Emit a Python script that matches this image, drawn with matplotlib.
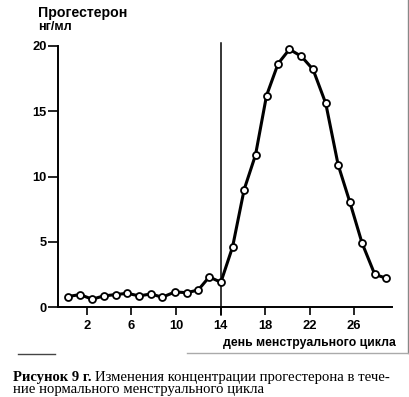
import matplotlib
matplotlib.use("Agg")
import matplotlib.pyplot as plt
from matplotlib.lines import Line2D

# положение точек по дням цикла (как нарисовано) и концентрация, нг/мл
days = [0.27, 1.37, 2.47, 3.52, 4.57, 5.62, 6.69, 7.74, 8.76, 9.90,
        10.97, 11.99, 12.98, 14.03, 15.08, 16.12, 17.14, 18.13, 19.17,
        20.19, 21.27, 22.31, 23.45, 24.56, 25.61, 26.71, 27.85, 28.90]
progesterone = [0.8, 0.95, 0.6, 0.85, 0.95, 1.05, 0.85, 1.0, 0.75, 1.15,
                1.1, 1.3, 2.3, 1.9, 4.6, 9.0, 11.65, 16.2, 18.65, 19.75,
                19.2, 18.2, 15.6, 10.9, 8.05, 4.9, 2.5, 2.2]

x_ticks = [2, 6, 10, 14, 18, 22, 26]
y_ticks = [0, 5, 10, 15, 20]
ovulation_day = 14

W, H = 410, 397
SANS = "Liberation Sans"
SERIF = "Liberation Serif"


def fx(px):
    return px / W


def fy(py):
    return 1 - py / H


fig = plt.figure(figsize=(W / 100, H / 100), dpi=100)
ax = fig.add_axes([fx(58), fy(307), (392 - 58) / W, (307 - 46) / H])

ax.plot(days, progesterone, color="black", lw=2.2, marker="o", ms=5,
        mfc="white", mec="black", mew=1.3, clip_on=False, zorder=3)
# вертикальная линия - середина цикла
ax.plot([ovulation_day, ovulation_day], [-0.6, 20.25], color="black",
        lw=1.1, clip_on=False, zorder=2)

ax.set_xlim(-0.6, 29.4)
ax.set_ylim(0, 20)
ax.set_xticks(x_ticks)
ax.set_yticks(y_ticks)
for s in ["top", "right"]:
    ax.spines[s].set_visible(False)
for s in ["left", "bottom"]:
    ax.spines[s].set_linewidth(1.4)
ax.tick_params(axis="x", direction="out", length=6, width=1.2, pad=3.5)
ax.tick_params(axis="y", direction="out", length=7, width=1.2, pad=1)
for lab in ax.get_xticklabels() + ax.get_yticklabels():
    lab.set_fontfamily(SANS)
    lab.set_fontweight("bold")
    lab.set_fontsize(9.3)

fig.text(fx(38), fy(16.7), "Прогестерон", family=SANS, weight="bold",
         fontsize=10.2, va="baseline")
fig.text(fx(38), fy(30), "нг/мл", family=SANS, weight="bold",
         fontsize=9, va="baseline")
fig.text(fx(396), fy(346), "день менструального цикла", family=SANS,
         weight="bold", fontsize=8.8, va="baseline", ha="right")

# подпись: жирная часть, затем обычный текст сразу за ней
t_bold = fig.text(fx(13), fy(380.7), "Рисунок 9 г.", family=SERIF,
                  weight="bold", fontsize=10.5, va="baseline")
renderer = fig.canvas.get_renderer()
x_end = t_bold.get_window_extent(renderer).x1
fig.text((x_end + 4) / W, fy(380.7),
         "Изменения концентрации прогестерона в тече-",
         family=SERIF, fontsize=10.6, va="baseline")
fig.text(fx(13), fy(393), "ние нормального менструального цикла",
         family=SERIF, fontsize=10.6, va="baseline")

# края рамки со скана
fig.add_artist(Line2D([fx(408), fx(408)], [fy(0), fy(353)], color="#888888", lw=1))
fig.add_artist(Line2D([fx(187), fx(408)], [fy(353), fy(353)], color="#aaaaaa", lw=1))
fig.add_artist(Line2D([fx(18), fx(55)], [fy(354), fy(354)], color="#444444", lw=1))

fig.savefig("out.png", dpi=100)
